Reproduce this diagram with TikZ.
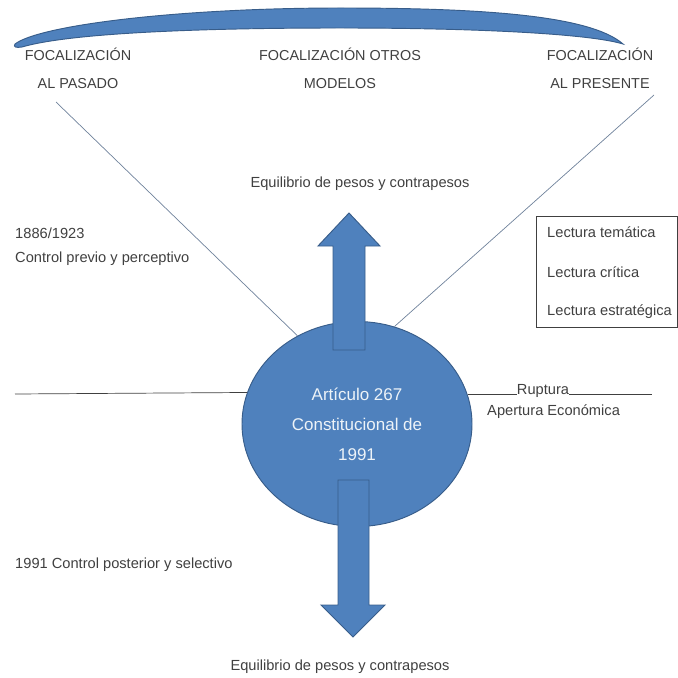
\documentclass[tikz,border=0pt]{standalone}
\usepackage{fontspec}
\setmainfont{Liberation Sans}
\usetikzlibrary{shapes.geometric}
\definecolor{fillblue}{HTML}{4F81BD}
\definecolor{edgeblue}{HTML}{385D8A}
\definecolor{txtgray}{HTML}{404040}
\definecolor{linegray}{HTML}{6F829B}
\begin{document}
\begin{tikzpicture}[x=0.03cm,y=-0.03cm,
  lbl/.style={text=txtgray,font=\fontsize{12.5}{15}\selectfont,inner sep=0pt},
  caplbl/.style={text=txtgray,font=\fontsize{12.3}{23.8}\selectfont,align=center,inner sep=0pt},
  blueshape/.style={fill=fillblue,draw=edgeblue,line width=0.8pt},
  thinline/.style={draw=linegray,line width=0.6pt},
  darkline/.style={draw=txtgray,line width=0.6pt}]
\useasboundingbox (0,0) rectangle (678,677);
% top arc
\path[blueshape] (15,44) .. controls (40,25) and (180,8) .. (340,8)
  .. controls (480,8) and (590,15) .. (623,44)
  .. controls (590,34) and (480,28) .. (340,28)
  .. controls (200,28) and (70,33) .. (22,47)
  .. controls (16,48) and (13,47) .. cycle;
% top labels
\node[caplbl] (past) at (78,68) {FOCALIZACIÓN\\AL PASADO};
\node[caplbl] (otros) at (340,68) {FOCALIZACIÓN OTROS\\MODELOS};
\node[caplbl] (pres) at (600,68) {FOCALIZACIÓN\\AL PRESENTE};
% central ellipse
\node[ellipse,blueshape,minimum width=6.9cm,minimum height=6.15cm,inner sep=0pt,
  text=white!90!fillblue,align=center,font=\fontsize{14.5}{25.5}\selectfont] (circ) at (357,424)
  {Artículo 267\\Constitucional de\\1991};
% diagonal lines
\coordinate (lpast) at (56,102);
\coordinate (lpres) at (654,95);
\draw[thinline] (lpast) -- (circ.124.7);
\draw[thinline] (lpres) -- (circ.69.2);
% up arrow
\path[blueshape] (333,350) -- (333,246) -- (318,246) -- (349,213) -- (380,246) -- (365,246) -- (365,350) -- cycle;
% down arrow
\path[blueshape] (338,480) -- (338,605) -- (321,605) -- (353,637) -- (385,605) -- (369,605) -- (369,480) -- cycle;
% texts
\node[lbl] (eqtop) at (360,184) {Equilibrio de pesos y contrapesos};
\node[lbl] (eqbot) at (340,667) {Equilibrio de pesos y contrapesos};
\node[lbl,anchor=west] (y1886) at (15,233) {1886/1923};
\node[lbl,anchor=west] (ctrlprev) at (15,259) {Control previo y perceptivo};
\node[lbl,anchor=west] (ctrlpost) at (15,565) {1991 Control posterior y selectivo};
% lectura box
\draw[darkline] (536,216) rectangle (677,327);
\node[lbl,anchor=west] (lt1) at (547,232) {Lectura temática};
\node[lbl,anchor=west] (lt2) at (547,272) {Lectura crítica};
\node[lbl,anchor=west] (lt3) at (547,312) {Lectura estratégica};
% horizontal lines
\coordinate (hleft) at (15,394);
\draw[darkline] (hleft) -- (circ.164.7);
\node[lbl,anchor=base] (rupt) at (543,394) {Ruptura};
\coordinate (hright) at (652,394);
\draw[darkline] (circ.15.3 |- rupt.base) -- (rupt.base west);
\draw[darkline] (rupt.base east) -- (hright);
\node[lbl,anchor=west] (apert) at (487,412) {Apertura Económica};
\end{tikzpicture}
\end{document}
